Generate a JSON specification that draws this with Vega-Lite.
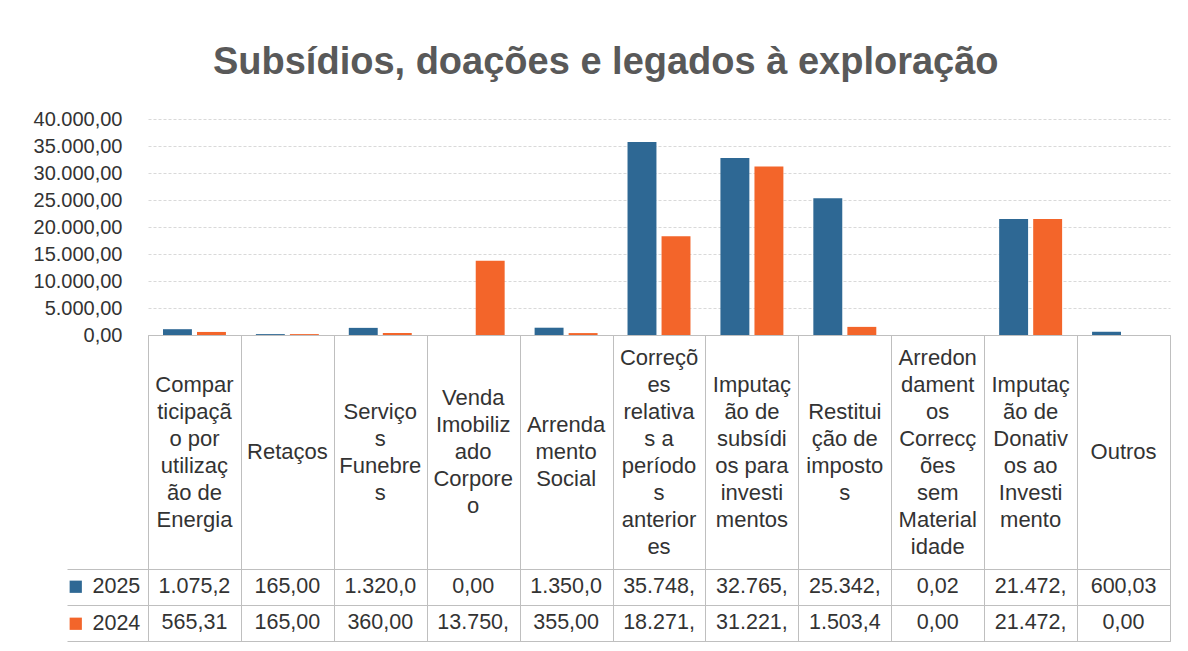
{
  "$schema": "https://vega.github.io/schema/vega-lite/v6.json",
  "background": "white",
  "padding": {"left": 33, "top": 44, "right": 10, "bottom": 5},
  "config": {
    "locale": {"number": {"decimal": ",", "thousands": ".", "grouping": [3], "currency": ["", " €"]}},
    "font": "Liberation Sans",
    "view": {"stroke": null},
    "concat": {"spacing": 0}
  },
  "title": {
    "text": "Subsídios, doações e legados à exploração",
    "fontSize": 38,
    "fontWeight": "bold",
    "color": "#595959",
    "font": "Liberation Sans",
    "anchor": "middle",
    "offset": 27,
    "dx": 4
  },
  "datasets": {
    "vals": [
      {"cat": "Comparticipação por utilização de Energia", "year": "2025", "value": 1075.2, "label": "1.075,2"},
      {"cat": "Retaços", "year": "2025", "value": 165, "label": "165,00"},
      {"cat": "Serviços Funebres", "year": "2025", "value": 1320, "label": "1.320,0"},
      {"cat": "Venda Imobilizado Corporeo", "year": "2025", "value": 0, "label": "0,00"},
      {"cat": "Arrendamento Social", "year": "2025", "value": 1350, "label": "1.350,0"},
      {"cat": "Correções relativas a períodos anteriores", "year": "2025", "value": 35748, "label": "35.748,"},
      {"cat": "Imputação de subsídios para investimentos", "year": "2025", "value": 32765, "label": "32.765,"},
      {"cat": "Restituição de impostos", "year": "2025", "value": 25342, "label": "25.342,"},
      {"cat": "Arredondamentos Correcções sem Materialidade", "year": "2025", "value": 0.02, "label": "0,02"},
      {"cat": "Imputação de Donativos ao Investimento", "year": "2025", "value": 21472, "label": "21.472,"},
      {"cat": "Outros", "year": "2025", "value": 600.03, "label": "600,03"},
      {"cat": "Comparticipação por utilização de Energia", "year": "2024", "value": 565.31, "label": "565,31"},
      {"cat": "Retaços", "year": "2024", "value": 165, "label": "165,00"},
      {"cat": "Serviços Funebres", "year": "2024", "value": 360, "label": "360,00"},
      {"cat": "Venda Imobilizado Corporeo", "year": "2024", "value": 13750, "label": "13.750,"},
      {"cat": "Arrendamento Social", "year": "2024", "value": 355, "label": "355,00"},
      {"cat": "Correções relativas a períodos anteriores", "year": "2024", "value": 18271, "label": "18.271,"},
      {"cat": "Imputação de subsídios para investimentos", "year": "2024", "value": 31221, "label": "31.221,"},
      {"cat": "Restituição de impostos", "year": "2024", "value": 1503.4, "label": "1.503,4"},
      {"cat": "Arredondamentos Correcções sem Materialidade", "year": "2024", "value": 0, "label": "0,00"},
      {"cat": "Imputação de Donativos ao Investimento", "year": "2024", "value": 21472, "label": "21.472,"},
      {"cat": "Outros", "year": "2024", "value": 0, "label": "0,00"}
    ],
    "heads": [
      {"cat": "Comparticipação por utilização de Energia", "label": "Compar|ticipaçã|o por|utilizaç|ão de|Energia", "lines": 6},
      {"cat": "Retaços", "label": "Retaços", "lines": 1},
      {"cat": "Serviços Funebres", "label": "Serviço|s|Funebre|s", "lines": 4},
      {"cat": "Venda Imobilizado Corporeo", "label": "Venda|Imobiliz|ado|Corpore|o", "lines": 5},
      {"cat": "Arrendamento Social", "label": "Arrenda|mento|Social", "lines": 3},
      {"cat": "Correções relativas a períodos anteriores", "label": "Correçõ|es|relativa|s a|período|s|anterior|es", "lines": 8},
      {"cat": "Imputação de subsídios para investimentos", "label": "Imputaç|ão de|subsídi|os para|investi|mentos", "lines": 6},
      {"cat": "Restituição de impostos", "label": "Restitui|ção de|imposto|s", "lines": 4},
      {"cat": "Arredondamentos Correcções sem Materialidade", "label": "Arredon|dament|os|Correcç|ões|sem|Material|idade", "lines": 8},
      {"cat": "Imputação de Donativos ao Investimento", "label": "Imputaç|ão de|Donativ|os ao|Investi|mento", "lines": 6},
      {"cat": "Outros", "label": "Outros", "lines": 1}
    ]
  },
  "bounds": "flush",
  "resolve": {"scale": {"color": "independent"}, "legend": {"color": "independent"}},
  "vconcat": [
    {
      "width": 1022,
      "height": 216,
      "data": {"name": "vals"},
      "mark": {"type": "bar"},
      "encoding": {
        "x": {
          "field": "cat", "type": "nominal", "sort": null,
          "scale": {"domain": ["Comparticipação por utilização de Energia", "Retaços", "Serviços Funebres", "Venda Imobilizado Corporeo", "Arrendamento Social", "Correções relativas a períodos anteriores", "Imputação de subsídios para investimentos", "Restituição de impostos", "Arredondamentos Correcções sem Materialidade", "Imputação de Donativos ao Investimento", "Outros"], "paddingInner": 0, "paddingOuter": 0},
          "axis": null
        },
        "xOffset": {"field": "year", "type": "nominal", "scale": {"domain": ["2025", "2024"], "paddingInner": 0.15, "paddingOuter": 0.44}},
        "y": {
          "field": "value", "type": "quantitative",
          "scale": {"domain": [0, 40000]},
          "axis": {"values": [0, 5000, 10000, 15000, 20000, 25000, 30000, 35000, 40000], "format": ",.2f", "title": null, "domain": false, "ticks": false, "labelFontSize": 20, "labelColor": "#333333", "labelPadding": 26, "gridColor": "#d9d9d9", "gridDash": [3, 2]}
        },
        "color": {"field": "year", "type": "nominal", "scale": {"domain": ["2025", "2024"], "range": ["#2e6894", "#f3652a"]}, "legend": null}
      }
    },
    {
      "width": 1022,
      "height": 234,
      "data": {"name": "heads"},
      "view": {"stroke": "#bfbfbf"},
      "mark": {"type": "text", "lineBreak": "|", "fontSize": 22, "lineHeight": 27, "color": "#333333", "baseline": "middle"},
      "encoding": {
        "x": {
          "field": "cat", "type": "nominal", "sort": null,
          "scale": {"domain": ["Comparticipação por utilização de Energia", "Retaços", "Serviços Funebres", "Venda Imobilizado Corporeo", "Arrendamento Social", "Correções relativas a períodos anteriores", "Imputação de subsídios para investimentos", "Restituição de impostos", "Arredondamentos Correcções sem Materialidade", "Imputação de Donativos ao Investimento", "Outros"], "paddingInner": 0, "paddingOuter": 0},
          "axis": {"labels": false, "ticks": false, "domain": false, "title": null, "grid": true, "tickBand": "extent", "gridColor": "#bfbfbf", "gridOpacity": 1}
        },
        "y": {
          "field": "lines", "type": "quantitative",
          "scale": {"domain": [-7.6667, 9.6667], "nice": false, "zero": false},
          "axis": null
        },
        "text": {"field": "label", "type": "nominal"}
      }
    },
    {
      "width": 1022,
      "height": 72,
      "data": {"name": "vals"},
      "view": {"stroke": "#bfbfbf"},
      "encoding": {
        "x": {
          "field": "cat", "type": "nominal", "sort": null,
          "scale": {"domain": ["Comparticipação por utilização de Energia", "Retaços", "Serviços Funebres", "Venda Imobilizado Corporeo", "Arrendamento Social", "Correções relativas a períodos anteriores", "Imputação de subsídios para investimentos", "Restituição de impostos", "Arredondamentos Correcções sem Materialidade", "Imputação de Donativos ao Investimento", "Outros"], "paddingInner": 0, "paddingOuter": 0},
          "axis": {"labels": false, "ticks": false, "domain": false, "title": null, "grid": true, "tickBand": "extent", "gridColor": "#bfbfbf", "gridOpacity": 1}
        },
        "y": {
          "field": "year", "type": "nominal",
          "scale": {"domain": ["2025", "2024"], "paddingInner": 0, "paddingOuter": 0},
          "axis": {"labels": false, "ticks": true, "tickSize": 81, "tickBand": "extent", "tickColor": "#bfbfbf", "domain": false, "title": null, "grid": true, "gridColor": "#bfbfbf", "gridOpacity": 1}
        }
      },
      "layer": [
        {
          "mark": {"type": "text", "fontSize": 21.5, "color": "#333333", "baseline": "middle"},
          "encoding": {"text": {"field": "label", "type": "nominal"}}
        },
        {
          "mark": {"type": "square", "opacity": 0},
          "encoding": {
            "color": {
              "field": "year", "type": "nominal",
              "scale": {"domain": ["2025", "2024"], "range": ["#2e6894", "#f3652a"]},
              "legend": {"orient": "left", "title": null, "offset": -82, "padding": 7, "rowPadding": 14, "symbolType": "square", "symbolSize": 150, "symbolOpacity": 1, "symbolStrokeWidth": 0, "labelFontSize": 21.5, "labelColor": "#333333", "labelOffset": 6}
            }
          }
        }
      ]
    }
  ]
}
